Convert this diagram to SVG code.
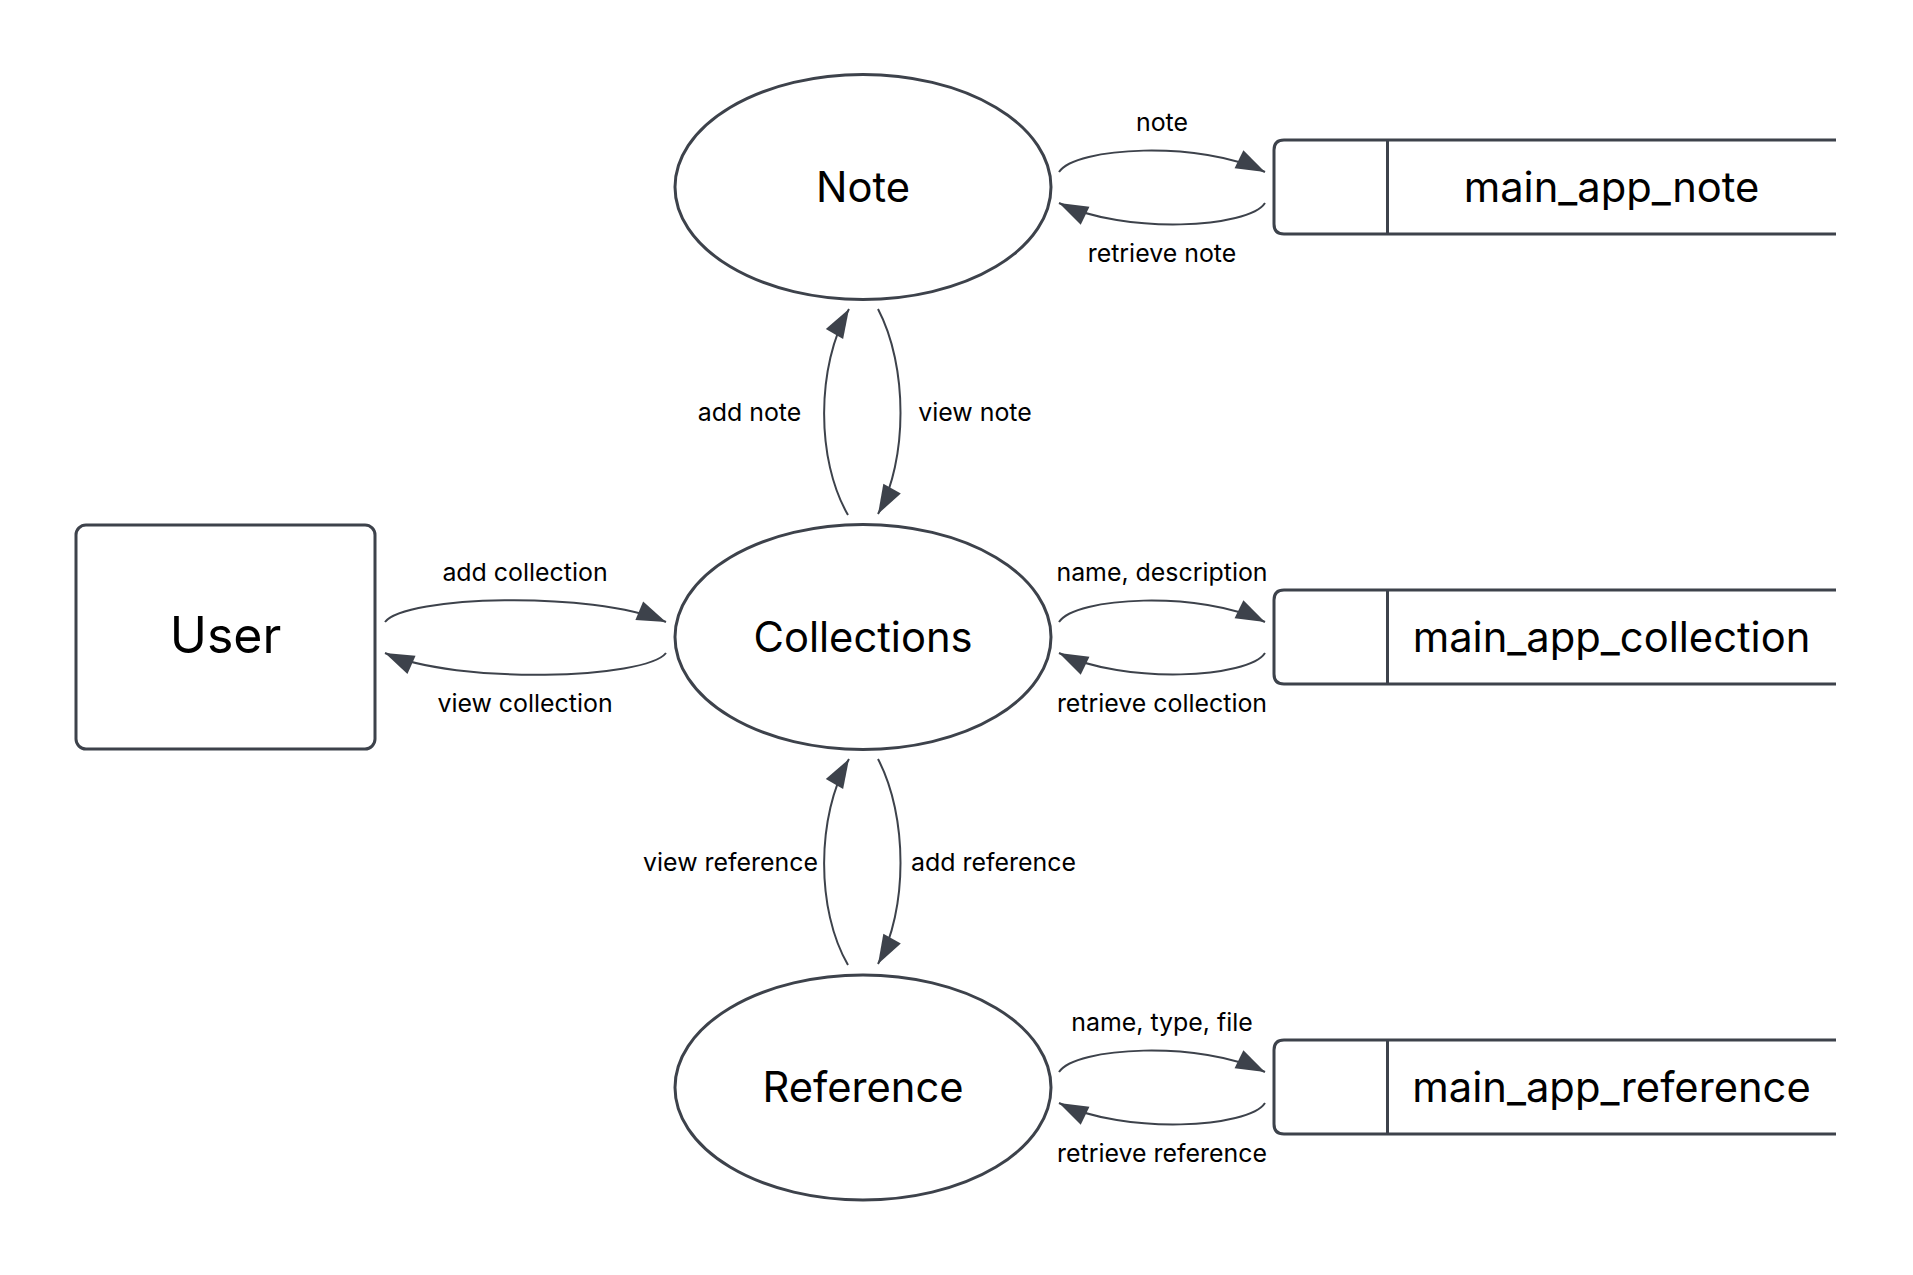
<svg xmlns="http://www.w3.org/2000/svg" width="1913" height="1275" viewBox="0 0 1913 1275">
<defs>
<style>
.shape{fill:#ffffff;stroke:#3d424b;stroke-width:3}
.conn{fill:none;stroke:#3d424b;stroke-width:2;marker-end:url(#ah)}
.big{font-family:Inter,"Liberation Sans",sans-serif;font-size:41.7px;fill:#000;text-anchor:middle}
.user{font-family:Inter,"Liberation Sans",sans-serif;font-size:50px;fill:#000;text-anchor:middle}
.lbl{font-family:Inter,"Liberation Sans",sans-serif;font-size:24.9px;fill:#000;text-anchor:middle}
</style>
<marker id="ah" markerUnits="userSpaceOnUse" markerWidth="31" markerHeight="21" viewBox="0 0 31 21" refX="29" refY="10.5" orient="auto" overflow="visible">
<path d="M0,0.5 L29,10.5 L0,20.5 Z" fill="#3d424b"/>
</marker>
</defs>
<rect width="1913" height="1275" fill="#ffffff"/>

<g id="user">
<rect class="shape" x="76" y="525" width="299" height="224" rx="10"/>
<text class="user" x="225.5" y="653">User</text>
</g>

<g id="note">
<ellipse class="shape" cx="863" cy="187" rx="188" ry="112.5"/>
<text class="big" x="863" y="202">Note</text>
</g>

<g id="collections">
<ellipse class="shape" cx="863" cy="637" rx="188" ry="112.5"/>
<text class="big" x="863" y="652">Collections</text>
</g>

<g id="reference">
<ellipse class="shape" cx="863" cy="1087.5" rx="188" ry="112.5"/>
<text class="big" x="863" y="1102">Reference</text>
</g>

<g id="store-note">
<path class="shape" d="M1836,140 H1284 Q1274,140 1274,150 V224 Q1274,234 1284,234 H1836"/>
<line class="shape" x1="1387.5" y1="140" x2="1387.5" y2="234"/>
<text class="big" x="1611.5" y="202">main_app_note</text>
</g>

<g id="store-collection">
<path class="shape" d="M1836,590 H1284 Q1274,590 1274,600 V674 Q1274,684 1284,684 H1836"/>
<line class="shape" x1="1387.5" y1="590" x2="1387.5" y2="684"/>
<text class="big" x="1611.5" y="652">main_app_collection</text>
</g>

<g id="store-reference">
<path class="shape" d="M1836,1040 H1284 Q1274,1040 1274,1050 V1124 Q1274,1134 1284,1134 H1836"/>
<line class="shape" x1="1387.5" y1="1040" x2="1387.5" y2="1134"/>
<text class="big" x="1611.5" y="1102">main_app_reference</text>
</g>

<g id="connectors">
<path class="conn" d="M385,622 C405,596 590,590 666,622"/>
<path class="conn" d="M666,653 C646,679 457,685 385,653"/>
<path class="conn" d="M1059,172 C1075,147 1200,140 1265,172"/>
<path class="conn" d="M1265,203 C1249,228 1125,235 1059,203"/>
<path class="conn" d="M1059,622 C1075,597 1200,590 1265,622"/>
<path class="conn" d="M1265,653 C1249,678 1125,685 1059,653"/>
<path class="conn" d="M1059,1072 C1075,1047 1200,1040 1265,1072"/>
<path class="conn" d="M1265,1103 C1249,1128 1125,1135 1059,1103"/>
<path class="conn" d="M848,515 C816,460 816,366 849,309"/>
<path class="conn" d="M878,309 C908,366 908,460 878,514"/>
<path class="conn" d="M848,965 C816,910 816,816 849,759"/>
<path class="conn" d="M878,759 C908,816 908,910 878,964"/>
</g>

<g id="labels">
<text class="lbl" x="525" y="581">add collection</text>
<text class="lbl" x="525" y="712">view collection</text>
<text class="lbl" x="1162" y="131">note</text>
<text class="lbl" x="1162" y="262">retrieve note</text>
<text class="lbl" x="1162" y="581">name, description</text>
<text class="lbl" x="1162" y="712">retrieve collection</text>
<text class="lbl" x="1162" y="1031">name, type, file</text>
<text class="lbl" x="1162" y="1162">retrieve reference</text>
<text class="lbl" x="749.5" y="421">add note</text>
<text class="lbl" x="975" y="421">view note</text>
<text class="lbl" x="730.5" y="871">view reference</text>
<text class="lbl" x="993.5" y="871">add reference</text>
</g>
</svg>
